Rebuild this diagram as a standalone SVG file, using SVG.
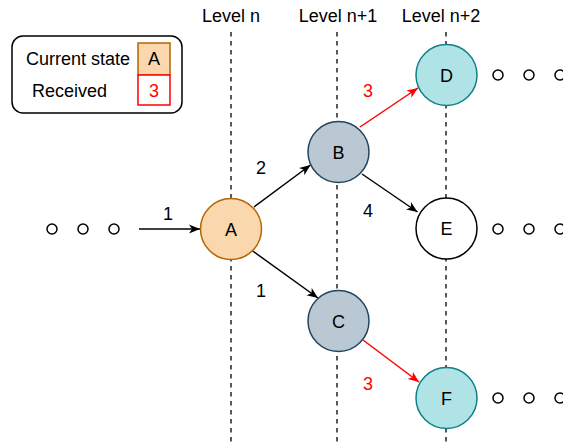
<svg xmlns="http://www.w3.org/2000/svg" width="563" height="446" viewBox="0 0 563 446">
  <style>
    text { font-family: "Liberation Sans", Arial, sans-serif; font-size: 18px; fill: #000; }
    .mid { text-anchor: middle; }
    .red { fill: #ff0000; }
    .level { stroke: #000; stroke-width: 1.3; stroke-dasharray: 4.5 4.5; fill: none; }
    .node { stroke-width: 1.5; }
    .orange { fill: #fad7ac; stroke: #b46504; }
    .grey { fill: #bac8d3; stroke: #23445d; }
    .teal { fill: #b0e3e6; stroke: #0e8088; }
    .plain { fill: #ffffff; stroke: #000; }
    .dot { fill: #fff; stroke: #000; stroke-width: 1.5; }
    .edge { fill: none; stroke: #000; stroke-width: 1.5; marker-end: url(#arrow); }
    .edge.hot { stroke: #ff0000; marker-end: url(#arrowRed); }
  </style>
  <defs>
    <marker id="arrow" markerUnits="userSpaceOnUse" markerWidth="12" markerHeight="10" refX="11" refY="5" orient="auto">
      <path d="M0,0.5 L11,5 L0,9.5 L3,5 z" fill="#000"/>
    </marker>
    <marker id="arrowRed" markerUnits="userSpaceOnUse" markerWidth="12" markerHeight="10" refX="11" refY="5" orient="auto">
      <path d="M0,0.5 L11,5 L0,9.5 L3,5 z" fill="#ff0000"/>
    </marker>
  </defs>

  <!-- level columns -->
  <g id="levels">
    <line class="level" x1="231" y1="32" x2="231" y2="446"/>
    <line class="level" x1="337" y1="32" x2="337" y2="446"/>
    <line class="level" x1="446" y1="32" x2="446" y2="446"/>
    <text class="mid" x="231" y="22">Level n</text>
    <text class="mid" x="338" y="22">Level n+1</text>
    <text class="mid" x="441" y="22">Level n+2</text>
  </g>

  <!-- legend -->
  <g id="legend">
    <rect x="12" y="36" width="170" height="77" rx="11" ry="11" fill="#fff" stroke="#000" stroke-width="1.5"/>
    <text x="26" y="65">Current state</text>
    <text x="32" y="97">Received</text>
    <rect class="orange" x="138" y="43" width="32" height="32" stroke-width="1.5"/>
    <text class="mid" x="154" y="65">A</text>
    <rect x="138" y="75" width="32" height="30" fill="#fff" stroke="#ff0000" stroke-width="1.5"/>
    <text class="mid red" x="154" y="97">3</text>
  </g>

  <!-- connectors -->
  <g id="connectors">
    <line class="edge" x1="139" y1="229" x2="200" y2="229"/>
    <line class="edge" x1="254" y1="207" x2="310.5" y2="165"/>
    <line class="edge" x1="252" y1="250.5" x2="318" y2="298"/>
    <line class="edge" x1="362" y1="174" x2="417.5" y2="212"/>
    <line class="edge hot" x1="360" y1="127" x2="418" y2="88"/>
    <line class="edge hot" x1="363" y1="340" x2="419" y2="382"/>
    <text class="mid" x="168" y="220">1</text>
    <text class="mid" x="261" y="174">2</text>
    <text class="mid" x="261" y="297">1</text>
    <text class="mid" x="368" y="217">4</text>
    <text class="mid red" x="368" y="97">3</text>
    <text class="mid red" x="368" y="390">3</text>
  </g>

  <!-- continuation dots -->
  <g id="dots-left">
    <circle class="dot" cx="52" cy="229" r="5"/>
    <circle class="dot" cx="83" cy="229" r="5"/>
    <circle class="dot" cx="114" cy="229" r="5"/>
  </g>
  <g id="dots-d">
    <circle class="dot" cx="498" cy="75" r="5"/>
    <circle class="dot" cx="529" cy="75" r="5"/>
    <circle class="dot" cx="560" cy="75" r="5"/>
  </g>
  <g id="dots-e">
    <circle class="dot" cx="498" cy="229" r="5"/>
    <circle class="dot" cx="529" cy="229" r="5"/>
    <circle class="dot" cx="560" cy="229" r="5"/>
  </g>
  <g id="dots-f">
    <circle class="dot" cx="498" cy="398" r="5"/>
    <circle class="dot" cx="529" cy="398" r="5"/>
    <circle class="dot" cx="560" cy="398" r="5"/>
  </g>

  <!-- nodes -->
  <g id="node-A">
    <circle class="node orange" cx="231" cy="229" r="30.5"/>
    <text class="mid" x="231" y="235.5">A</text>
  </g>
  <g id="node-B">
    <circle class="node grey" cx="338.5" cy="152" r="30.5"/>
    <text class="mid" x="338.5" y="158.5">B</text>
  </g>
  <g id="node-C">
    <circle class="node grey" cx="338.5" cy="321" r="30.5"/>
    <text class="mid" x="338.5" y="327.5">C</text>
  </g>
  <g id="node-D">
    <circle class="node teal" cx="446.5" cy="75" r="30.5"/>
    <text class="mid" x="446.5" y="81.5">D</text>
  </g>
  <g id="node-E">
    <circle class="node plain" cx="446.5" cy="228.5" r="30.5"/>
    <text class="mid" x="446.5" y="235">E</text>
  </g>
  <g id="node-F">
    <circle class="node teal" cx="446.5" cy="398" r="30.5"/>
    <text class="mid" x="446.5" y="404.5">F</text>
  </g>
</svg>
